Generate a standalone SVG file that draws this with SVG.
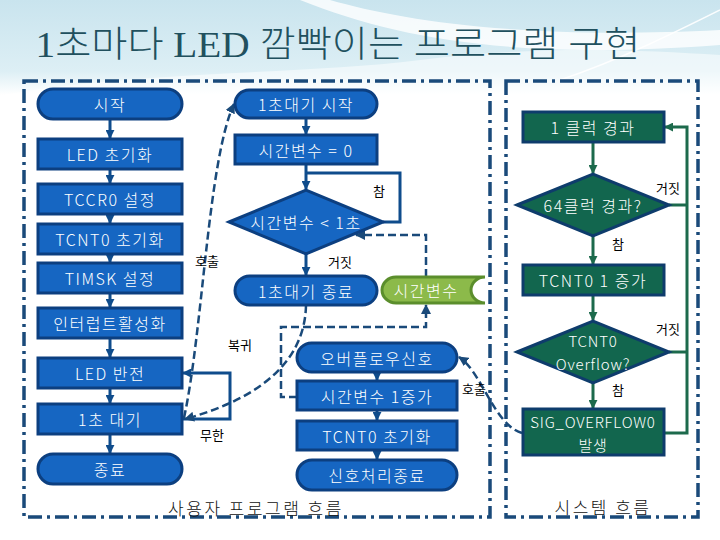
<svg xmlns="http://www.w3.org/2000/svg" width="720" height="540" viewBox="0 0 720 540">
<defs>
<linearGradient id="bg" x1="0" y1="0" x2="0" y2="1">
<stop offset="0" stop-color="#c9e4ee"/>
<stop offset="0.75" stop-color="#ddeff5"/>
<stop offset="1" stop-color="#ffffff"/>
</linearGradient>
<marker id="ab" viewBox="0 0 10 10" refX="9" refY="5" markerWidth="9" markerHeight="9" markerUnits="userSpaceOnUse" orient="auto"><path d="M0,0 L10,5 L0,10 Z" fill="#0f4c8c"/></marker>
<marker id="ag" viewBox="0 0 10 10" refX="9" refY="5" markerWidth="9" markerHeight="9" markerUnits="userSpaceOnUse" orient="auto"><path d="M0,0 L10,5 L0,10 Z" fill="#1c6a4c"/></marker>
<marker id="ad" viewBox="0 0 10 10" refX="9" refY="5" markerWidth="10" markerHeight="10" markerUnits="userSpaceOnUse" orient="auto"><path d="M0,0 L10,5 L0,10 Z" fill="#1a4a7a"/></marker>
<style>
.bn{fill:#1666c2;stroke:#0c3f80;stroke-width:3}
.gn{fill:#12664e;stroke:#0e3c6c;stroke-width:3}
.st{fill:#8cba4a;stroke:#5b8e2c;stroke-width:3}
.t{font-family:"Noto Sans CJK KR","Noto Sans",sans-serif;font-weight:300;font-size:16px;fill:#ffffff;text-anchor:middle;dominant-baseline:central;letter-spacing:1.5px}
.t2{font-family:"Noto Sans CJK KR","Noto Sans",sans-serif;font-weight:300;font-size:15px;fill:#ffffff;text-anchor:middle;dominant-baseline:central;letter-spacing:0.8px}
.lb{font-family:"Noto Sans CJK KR","Noto Sans",sans-serif;font-size:13px;fill:#000000;text-anchor:middle;dominant-baseline:central}
.cap{font-family:"Noto Sans CJK KR","Noto Sans",sans-serif;font-weight:300;font-size:17px;fill:#111111;text-anchor:middle;dominant-baseline:central;letter-spacing:2.5px}
.cb{fill:none;stroke:#0f4c8c;stroke-width:3}
.cg{fill:none;stroke:#1c6a4c;stroke-width:3}
.cd{fill:none;stroke:#1a4a7a;stroke-width:2.5;stroke-dasharray:8 4}
.fr{fill:none;stroke:#1a4a7a;stroke-width:3.5;stroke-dasharray:14 5 3 5}
</style>
</defs>
<rect x="0" y="0" width="720" height="540" fill="#ffffff"/>
<rect x="0" y="0" width="720" height="95" fill="url(#bg)"/>
<path d="M330,0 C400,20 520,40 720,30 L720,45 C520,60 400,40 300,0 Z" fill="#ffffff" opacity="0.8"/>
<path d="M0,95 C150,70 300,75 420,60 C540,45 640,50 720,55 L720,95 Z" fill="#ffffff" opacity="0.5"/>
<path d="M560,80 C620,60 680,30 720,10" fill="none" stroke="#ffffff" stroke-width="1.5" opacity="0.9"/>
<text x="338" y="45" font-family="'Liberation Serif','Noto Sans CJK KR',serif" font-weight="300" font-size="36" fill="#21505e" text-anchor="middle" dominant-baseline="central" textLength="605" lengthAdjust="spacingAndGlyphs">1초마다 LED 깜빡이는 프로그램 구현</text>

<g id="frames">
<rect class="fr" x="24" y="81" width="466" height="436"/>
<rect class="fr" x="506" y="81" width="192" height="436"/>
<text class="cap" x="256" y="507">사용자 프로그램 흐름</text>
<text class="cap" x="603" y="506">시스템 흐름</text>
</g>

<g id="connectors">
<path class="cb" d="M110,119 V138" marker-end="url(#ab)"/>
<path class="cb" d="M110,169 V183" marker-end="url(#ab)"/>
<path class="cb" d="M110,214 V223" marker-end="url(#ab)"/>
<path class="cb" d="M110,254 V262" marker-end="url(#ab)"/>
<path class="cb" d="M110,293 V307" marker-end="url(#ab)"/>
<path class="cb" d="M110,338 V357" marker-end="url(#ab)"/>
<path class="cb" d="M110,388 V403" marker-end="url(#ab)"/>
<path class="cb" d="M110,434 V453" marker-end="url(#ab)"/>
<path class="cb" d="M182,419 H230 V373 H183" marker-end="url(#ab)"/>
<path class="cb" d="M306,118 V134" marker-end="url(#ab)"/>
<path class="cb" d="M306,164 V189" marker-end="url(#ab)"/>
<path class="cb" d="M383,222 H400 V173 H306"/>
<path class="cb" d="M306,254 V275" marker-end="url(#ab)"/>
<path class="cb" d="M377,372 V380" marker-end="url(#ab)"/>
<path class="cb" d="M377,410 V420" marker-end="url(#ab)"/>
<path class="cb" d="M377,450 V459" marker-end="url(#ab)"/>
<path class="cg" d="M593,142 V173" marker-end="url(#ag)"/>
<path class="cg" d="M593,236 V264" marker-end="url(#ag)"/>
<path class="cg" d="M593,295 V320" marker-end="url(#ag)"/>
<path class="cg" d="M593,383 V408" marker-end="url(#ag)"/>
<path class="cg" d="M664,433 H687 V127 H665" marker-end="url(#ag)"/>
<path class="cg" d="M669,205 H687"/>
<path class="cg" d="M669,352 H687"/>
<path class="cd" d="M184,418 C203,330 208,160 234,104" marker-end="url(#ad)"/>
<path class="cd" d="M306,305 C305,360 262,398 185,419" marker-end="url(#ad)"/>
<path class="cd" d="M426,277 V235 H356" marker-end="url(#ad)"/>
<path class="cd" d="M297,397 H281 V327 H426 V305" marker-end="url(#ad)"/>
<path class="cd" d="M522,433 C494,425 482,372 459,357" marker-end="url(#ad)"/>
<text class="lb" x="379" y="190">참</text>
<text class="lb" x="340" y="261">거짓</text>
<text class="lb" x="207" y="260">호출</text>
<text class="lb" x="240" y="344">복귀</text>
<text class="lb" x="212" y="434">무한</text>
<text class="lb" x="474" y="388">호출</text>
<text class="lb" x="668" y="187">거짓</text>
<text class="lb" x="618" y="243">참</text>
<text class="lb" x="668" y="328">거짓</text>
<text class="lb" x="618" y="389">참</text>
</g>

<g id="start"><rect class="bn" x="38" y="89" width="144" height="30" rx="15"/><text class="t" x="110" y="104">시작</text></g>
<g id="led_init"><rect class="bn" x="38" y="139" width="144" height="30"/><text class="t" x="110" y="154">LED 초기화</text></g>
<g id="tccr0"><rect class="bn" x="38" y="184" width="144" height="30"/><text class="t" x="110" y="199">TCCR0 설정</text></g>
<g id="tcnt0_init"><rect class="bn" x="38" y="224" width="144" height="30"/><text class="t" x="110" y="239">TCNT0 초기화</text></g>
<g id="timsk"><rect class="bn" x="38" y="263" width="144" height="30"/><text class="t" x="110" y="278">TIMSK 설정</text></g>
<g id="int_en"><rect class="bn" x="38" y="308" width="144" height="30"/><text class="t" x="110" y="323">인터럽트활성화</text></g>
<g id="led_toggle"><rect class="bn" x="38" y="358" width="144" height="30"/><text class="t" x="110" y="373">LED 반전</text></g>
<g id="wait1s"><rect class="bn" x="38" y="404" width="144" height="30"/><text class="t" x="110" y="419">1초 대기</text></g>
<g id="end"><rect class="bn" x="38" y="454" width="144" height="30" rx="15"/><text class="t" x="110" y="469">종료</text></g>

<g id="wait_start"><rect class="bn" x="235" y="90" width="142" height="28" rx="14"/><text class="t" x="306" y="104">1초대기 시작</text></g>
<g id="tv_zero"><rect class="bn" x="235" y="135" width="142" height="29"/><text class="t" x="306" y="150">시간변수 = 0</text></g>
<g id="tv_check"><polygon class="bn" points="229,222 306,190 383,222 306,254"/><text class="t" x="306" y="222">시간변수 &lt; 1초</text></g>
<g id="wait_end"><rect class="bn" x="235" y="276" width="142" height="29" rx="14.5"/><text class="t" x="306" y="291">1초대기 종료</text></g>
<g id="tv_store"><path class="st" d="M396,277 H485 A14,13 0 0 0 485,303 H396 A14,13 0 0 1 396,277 Z"/><text class="t" x="426" y="290" fill="#eef6e0">시간변수</text></g>
<g id="ovf_signal"><rect class="bn" x="297" y="343" width="160" height="29" rx="14.5"/><text class="t" x="377" y="358">오버플로우신호</text></g>
<g id="tv_inc"><rect class="bn" x="297" y="381" width="160" height="29"/><text class="t" x="377" y="396">시간변수 1증가</text></g>
<g id="tcnt0_reinit"><rect class="bn" x="297" y="421" width="160" height="29"/><text class="t" x="377" y="436">TCNT0 초기화</text></g>
<g id="sig_end"><rect class="bn" x="297" y="460" width="160" height="30" rx="15"/><text class="t" x="377" y="475">신호처리종료</text></g>

<g id="clk1"><rect class="gn" x="523" y="112" width="141" height="30"/><text class="t" x="593" y="127">1 클럭 경과</text></g>
<g id="clk64"><polygon class="gn" points="517,205 593,174 669,205 593,236"/><text class="t" x="593" y="205">64클럭 경과?</text></g>
<g id="tcnt0_inc"><rect class="gn" x="523" y="265" width="141" height="30"/><text class="t" x="593" y="280">TCNT0 1 증가</text></g>
<g id="ovf_check"><polygon class="gn" points="517,352 593,321 669,352 593,383"/><text class="t2" x="593" y="340">TCNT0</text><text class="t2" x="593" y="363">Overflow?</text></g>
<g id="sig_ovf"><rect class="gn" x="523" y="409" width="141" height="46"/><text class="t2" x="593" y="421">SIG_OVERFLOW0</text><text class="t2" x="593" y="444">발생</text></g>
</svg>
